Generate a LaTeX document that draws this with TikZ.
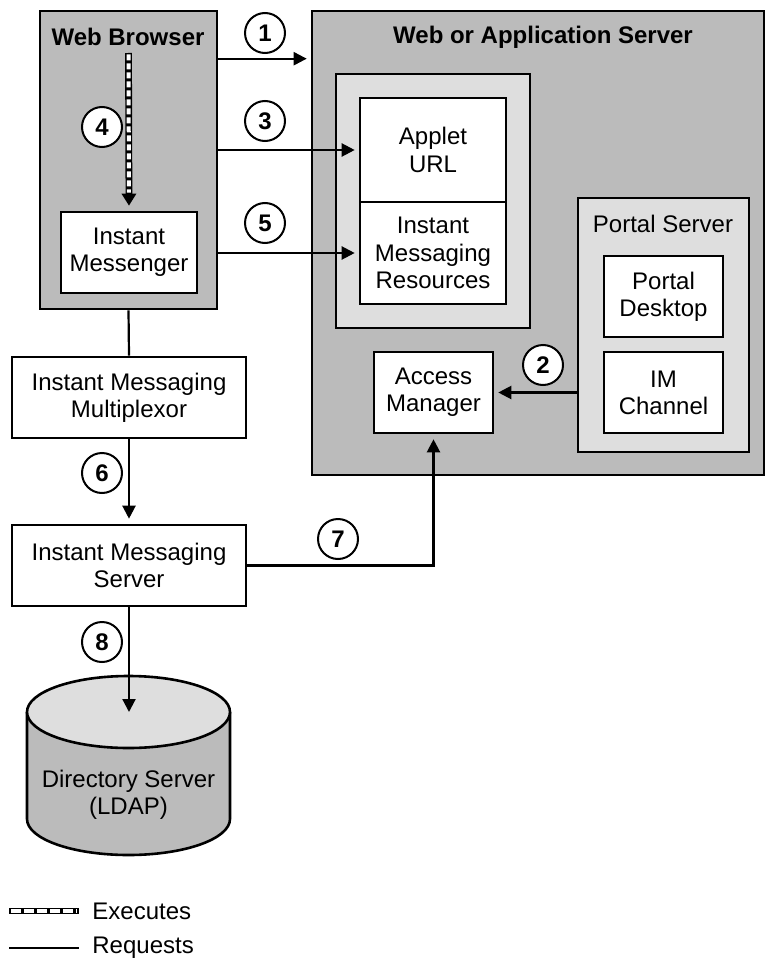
\documentclass[tikz,border=0pt]{standalone}
\usepackage{fontspec}
\setmainfont{Liberation Sans}
\usetikzlibrary{arrows.meta}
\definecolor{boxgray}{RGB}{187,187,187}
\definecolor{panelgray}{RGB}{222,222,222}

\begin{document}
\begin{tikzpicture}[x=0.5pt, y=-0.5pt,
    every node/.style={font=\fontsize{12}{13.6}\selectfont, align=center},
    box/.style={draw, line width=1.3pt, fill=white, inner sep=0pt},
    darkbox/.style={draw, line width=1.3pt, fill=boxgray, inner sep=0pt},
    lightbox/.style={draw, line width=1.3pt, fill=panelgray, inner sep=0pt},
    heading/.style={font=\fontsize{12}{13.6}\selectfont\bfseries},
    numcirc/.style={circle, draw, line width=1pt, fill=white, minimum size=20pt, inner sep=0pt, font=\fontsize{12}{12}\selectfont\bfseries},
    req/.style={line width=1.1pt},
    reqarrow/.style={req, -{Triangle[length=6.5pt, width=6.5pt]}, shorten >=2pt},
    execblack/.style={line width=3.4pt},
    execwhite/.style={line width=2pt, white, dash pattern=on 3pt off 1.5pt}]
    \useasboundingbox (0,0) rectangle (766,963);
    \node[darkbox, minimum width=88.5pt, minimum height=149pt] (wb) at (128.5,160) {};
    \node[heading] (wbtitle) at (128,37) {Web Browser};
    \node[box, minimum width=68pt, minimum height=40.5pt] (im) at (129,252.5) {Instant\\Messenger};
    \node[darkbox, minimum width=226pt, minimum height=232pt] (was) at (538,243) {};
    \node[heading] (wastitle) at (543,37) {Web or Application Server};
    \node[lightbox, minimum width=97pt, minimum height=127pt] (pkg) at (433,201) {};
    \node[box, minimum width=73pt, minimum height=52pt] (applet) at (433,150) {Applet\\URL};
    \node[box, minimum width=73pt, minimum height=51pt] (imres) at (433,253) {Instant\\Messaging\\Resources};
    \node[lightbox, minimum width=85.5pt, minimum height=127pt] (ps) at (663.5,325) {};
    \node (pstitle) at (663,224) {Portal Server};
    \node[box, minimum width=59.5pt, minimum height=40.5pt] (pd) at (663.5,296.5) {Portal\\Desktop};
    \node[box, minimum width=59.5pt, minimum height=40.5pt] (imc) at (663.5,392.5) {IM\\Channel};
    \node[box, minimum width=59.5pt, minimum height=40.5pt] (am) at (433.5,392.5) {Access\\Manager};
    \node[box, minimum width=117pt, minimum height=40.5pt] (mux) at (129,397.5) {Instant Messaging\\Multiplexor};
    \node[box, minimum width=117pt, minimum height=40.5pt] (ims) at (129,565.5) {Instant Messaging\\Server};
    \fill[boxgray] (27,712) -- (27,819) arc[start angle=180, end angle=360, x radius=50.75pt, y radius=18pt] -- (230,712) -- cycle;
    \draw[line width=1.3pt] (27,712) -- (27,819) arc[start angle=180, end angle=360, x radius=50.75pt, y radius=18pt] -- (230,712);
    \filldraw[line width=1.3pt, fill=panelgray] (128.5,712) ellipse[x radius=50.75pt, y radius=18pt];
    \node (ds) at (128.5,795) {Directory Server\\(LDAP)};
    \coordinate (dstop) at (128.5,712);
    \coordinate (exstart) at (128.5,53);
    \draw[execblack, -{Triangle[length=6pt, width=7pt]}, shorten >=2.5pt] (exstart) -- (im.north);
    \draw[execwhite, shorten <=0.7pt, shorten >=9pt] (exstart) -- (im.north);
    \draw[reqarrow] ([yshift=-24.5pt]wb.north east) -- ([yshift=-24.5pt]was.north west);
    \draw[reqarrow] (wb.east |- applet.west) -- (applet.west);
    \draw[reqarrow] (wb.east |- imres.west) -- (imres.west);
    \draw[reqarrow] (ps.west |- am.east) -- (am.east);
    \draw[req] (wb.south) -- (mux.north);
    \draw[reqarrow, shorten >=2.5pt] (mux.south) -- (ims.north);
    \draw[reqarrow, shorten >=2.5pt] (ims.east) -| (am.south);
    \draw[reqarrow, shorten >=0pt] (ims.south) -- (ims.south |- dstop);
    \node[numcirc] (n1) at (265,33) {1};
    \node[numcirc] (n2) at (543,365) {2};
    \node[numcirc] (n3) at (265,121) {3};
    \node[numcirc] (n4) at (102,127) {4};
    \node[numcirc] (n5) at (265,223) {5};
    \node[numcirc] (n6) at (102,473) {6};
    \node[numcirc] (n7) at (338,539) {7};
    \node[numcirc] (n8) at (102,642) {8};
    \node[anchor=west, inner sep=0pt] (lgexec) at (92,911) {Executes};
    \node[anchor=west, inner sep=0pt] (lgreq) at (92,948) {Requests};
    \coordinate (lgexecA) at (9,911);
    \coordinate (lgreqA) at (9,948);
    \draw[execblack] (lgexecA) -- ([xshift=-6.5pt]lgexec.west);
    \draw[execwhite, line width=1.6pt, dash pattern=on 5pt off 1.5pt, shorten <=1pt, shorten >=1pt] (lgexecA) -- ([xshift=-6.5pt]lgexec.west);
    \draw[req] (lgreqA) -- ([xshift=-6.5pt]lgreq.west);
\end{tikzpicture}
\end{document}
